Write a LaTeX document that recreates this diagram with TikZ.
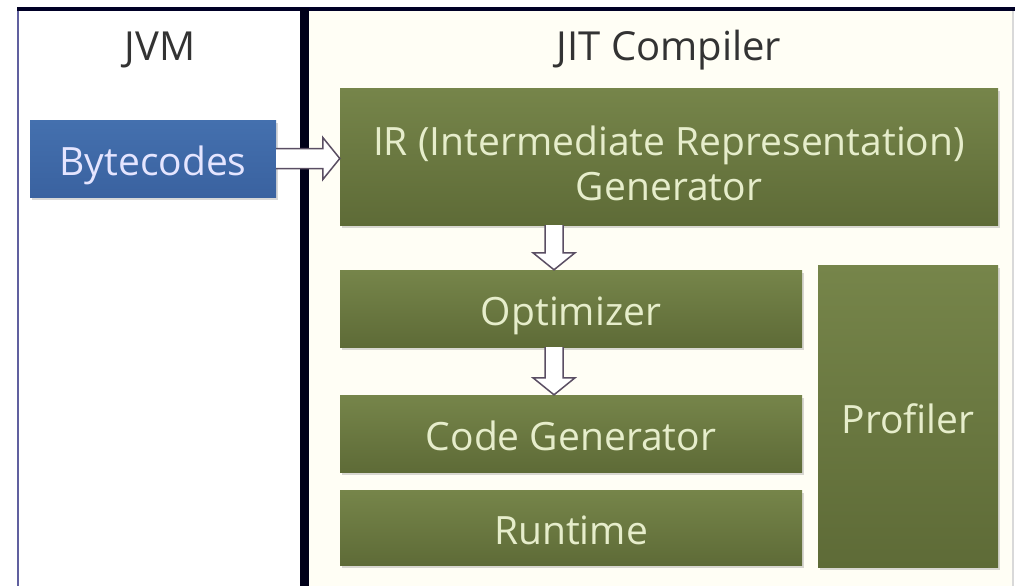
\documentclass[tikz,border=0pt]{standalone}
\usepackage{fontspec}
\setmainfont{Open Sans}
\usetikzlibrary{calc,shadows}
\definecolor{olive}{HTML}{6C7A42}
\definecolor{olivetop}{HTML}{76854A}
\definecolor{olivebot}{HTML}{5E6B37}
\definecolor{bluebox}{HTML}{3A62A0}
\definecolor{bluetop}{HTML}{4470AE}
\definecolor{cream}{HTML}{E6EDCB}
\definecolor{arrowedge}{HTML}{5A4E63}
\tikzset{
  boxtext/.style={font=\fontsize{39}{45}\selectfont, align=center, text height=34pt, text depth=0pt},
  greenbox/.style={boxtext, rectangle, inner sep=0pt, top color=olivetop, bottom color=olivebot,
    text=cream, drop shadow={shadow xshift=2pt, shadow yshift=-3pt, opacity=.3}},
  bluebox/.style={boxtext, rectangle, inner sep=0pt, top color=bluetop, bottom color=bluebox,
    text=white!90!blue, drop shadow={shadow xshift=2pt, shadow yshift=-3pt, opacity=.3}},
  hollow/.style={fill=white, draw=arrowedge, line width=1.5pt, line join=miter},
  title/.style={font=\fontsize{40}{46}\selectfont, text=black!80}
}
\begin{document}
\begin{tikzpicture}[x=1pt,y=-1pt]
\useasboundingbox (0,0) rectangle (1019,586);
\fill[white] (17,8) rectangle (305,586);
\fill[yellow!4!white] (305,8) rectangle (1013,586);
\draw[line width=2.5pt, color=blue!25!gray] (18,8) -- (18,586);
\draw[line width=2pt, color=black!15] (1013,8) -- (1013,586);
\draw[line width=4pt, color=black!85!blue] (17,9) -- (1015,9);
\draw[line width=9pt, color=black!90!blue] (304,8) -- (304,586);
\node[title] (jvmtitle) at (160,50) {JVM};
\node[title] (jittitle) at (669,50) {JIT Compiler};
\node[bluebox, minimum width=246pt, minimum height=77pt] (byte) at (153,158.5) {Bytecodes};
\node[greenbox, minimum width=658pt, minimum height=137pt, text height=87pt] (ir) at (669,156.5) {IR (Intermediate Representation)\\Generator};
\node[greenbox, minimum width=462pt, minimum height=77pt] (opt) at (571,308.5) {Optimizer};
\node[greenbox, minimum width=462pt, minimum height=77pt] (codegen) at (571,433.5) {Code Generator};
\node[greenbox, minimum width=462pt, minimum height=75pt] (runtime) at (571,527.5) {Runtime};
\node[greenbox, minimum width=180pt, minimum height=302pt] (prof) at (908,416) {Profiler};
\coordinate (col) at (554,0);
\coordinate (tip1) at (byte.east -| ir.west);
\coordinate (tip2) at (opt.north -| col);
\coordinate (tip3) at (codegen.north -| col);
\path[hollow] ($(byte.east)+(0,-10)$) -- ($(tip1)+(-17,-10)$) -- ($(tip1)+(-17,-21)$) -- (tip1)
  -- ($(tip1)+(-17,21)$) -- ($(tip1)+(-17,10)$) -- ($(byte.east)+(0,10)$);
\path[hollow] ($(ir.south -| col)+(-9,0)$) -- ($(tip2)+(-9,-17)$) -- ($(tip2)+(-21,-17)$) -- (tip2)
  -- ($(tip2)+(21,-17)$) -- ($(tip2)+(9,-17)$) -- ($(ir.south -| col)+(9,0)$);
\path[hollow] ($(opt.south -| col)+(-9,0)$) -- ($(tip3)+(-9,-17)$) -- ($(tip3)+(-21,-17)$) -- (tip3)
  -- ($(tip3)+(21,-17)$) -- ($(tip3)+(9,-17)$) -- ($(opt.south -| col)+(9,0)$);
\end{tikzpicture}
\end{document}
